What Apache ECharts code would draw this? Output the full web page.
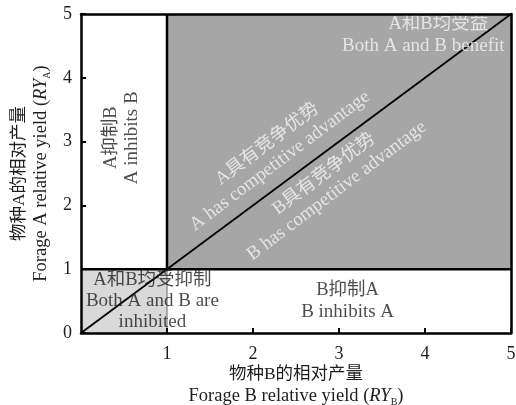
<!DOCTYPE html>
<html>
<head>
<meta charset="utf-8">
<script src="https://cdn.jsdelivr.net/npm/echarts@6/dist/echarts.min.js"></script>
<style>html,body{margin:0;padding:0;background:#fff}#c{width:516px;height:405px}</style>
</head>
<body>
<div id="c"></div>
<script>
// ---- data ----
const axisMin = 0, axisMax = 5, axisStep = 1;
const diagonal = [[0, 0], [5, 5]];
const benefitBox = [[1, 1], [5, 5]];
const inhibitedBox = [[0, 0], [1, 1]];
const thresholdH = [[0, 1], [5, 1]];
const thresholdVUpper = [[1, 1], [1, 5]];
const thresholdVLower = [[1, 0], [1, 1]];
const regionTexts = [
  { cn: 'A和B均受益', en: 'Both A and B benefit', at: [3.98, 4.67], dark: true, rot: 0, cnShift: 30 },
  { cn: 'A具有竞争优势', en: 'A has competitive advantage', at: [2.24, 2.83], dark: true, rot: 37, cnShift: 0 },
  { cn: 'B具有竞争优势', en: 'B has competitive advantage', at: [2.9, 2.36], dark: true, rot: 37, cnShift: 0 },
  { cn: 'A抑制B', en: 'A inhibits B', at: [0.47, 3.06], dark: false, rot: 90, cnShift: 0 },
  { cn: 'A和B均受抑制', en: 'Both A and B are\ninhibited', at: [0.83, 0.5], dark: false, rot: 0, cnShift: 0 },
  { cn: 'B抑制A', en: 'B inhibits A', at: [3.1, 0.5], dark: false, rot: 0, cnShift: 0 }
];

const serif = "'Liberation Serif','Times New Roman','Noto Sans CJK SC',serif";
const ink = '#1e1e1e';

const chart = echarts.init(document.getElementById('c'), null, { renderer: 'canvas' });

function textLabel(t) {
  const col = t.dark ? '#f4f4f4' : ink;
  const enLines = t.en.split('\n').map(s => '{e|' + s + '}').join('\n');
  return {
    show: true,
    position: 'inside',
    rotate: t.rot,
    align: 'center',
    verticalAlign: 'middle',
    formatter: '{c|' + t.cn + '}\n' + enLines,
    rich: {
      c: { fontFamily: serif, fontSize: 18.5, color: col, lineHeight: 21, align: 'center',
           padding: [0, 0, 0, t.cnShift] },
      e: { fontFamily: serif, fontSize: 19, color: col, lineHeight: 21, align: 'center' }
    }
  };
}

const lineStyleSeries = (data, w, c) => ({
  type: 'line', data: data, symbol: 'none', silent: true, z: 3,
  lineStyle: { color: c, width: w }, animation: false
});

const nameRich = {
  c: { fontFamily: serif, fontSize: 17.5, color: ink, lineHeight: 22, align: 'center' },
  e: { fontFamily: serif, fontSize: 18.5, color: ink, lineHeight: 22 },
  i: { fontFamily: serif, fontSize: 18.5, fontStyle: 'italic', color: ink, lineHeight: 22 },
  s: { fontFamily: serif, fontSize: 10, color: ink, lineHeight: 22, verticalAlign: 'bottom', padding: [8, 0, 0, 0] }
};

const axisCommon = {
  type: 'value', min: axisMin, max: axisMax, interval: axisStep, z: 10,
  splitLine: { show: false },
  axisLine: { show: true, lineStyle: { color: '#000', width: 2.5 } },
  axisTick: { show: true, inside: true, length: 5, lineStyle: { color: '#000', width: 2 } },
  axisLabel: { fontFamily: serif, fontSize: 18, color: ink }
};

chart.setOption({
  animation: false,
  grid: { left: 81, right: 5, top: 14, bottom: 72, containLabel: false, outerBoundsMode: 'none' },
  xAxis: [
    Object.assign({}, axisCommon, {
      position: 'bottom',
      axisLabel: Object.assign({}, axisCommon.axisLabel, { margin: 12, showMinLabel: false,
        formatter: v => (v === 0 ? '' : String(v)) }),
      name: '{c|物种B的相对产量}\n{e|Forage B relative yield (}{i|RY}{s|B}{e|)}',
      nameLocation: 'middle', nameGap: 30, nameMoveOverlap: false,
      nameTextStyle: { align: 'center', verticalAlign: 'top', rich: nameRich }
    }),
    { type: 'value', min: axisMin, max: axisMax, position: 'top', z: 10,
      axisLine: { show: true, onZero: false, lineStyle: { color: '#000', width: 2.5 } },
      axisTick: { show: false }, axisLabel: { show: false }, splitLine: { show: false } }
  ],
  yAxis: [
    Object.assign({}, axisCommon, {
      position: 'left',
      axisLabel: Object.assign({}, axisCommon.axisLabel, { margin: 9 }),
      name: '{c|物种A的相对产量}\n{e|Forage A relative yield (}{i|RY}{s|A}{e|)}',
      nameLocation: 'middle', nameGap: 29, nameRotate: 90, nameMoveOverlap: false,
      nameTextStyle: { align: 'center', rich: nameRich }
    }),
    { type: 'value', min: axisMin, max: axisMax, position: 'right', z: 10,
      axisLine: { show: true, onZero: false, lineStyle: { color: '#000', width: 2.5 } },
      axisTick: { show: false }, axisLabel: { show: false }, splitLine: { show: false } }
  ],
  series: [
    {
      type: 'line', data: [], silent: true, z: 1,
      markArea: {
        silent: true,
        data: [
          [{ coord: benefitBox[0], itemStyle: { color: '#a6a6a6' } }, { coord: benefitBox[1] }],
          [{ coord: inhibitedBox[0], itemStyle: { color: '#d9d9d9' } }, { coord: inhibitedBox[1] }]
        ]
      }
    },
    lineStyleSeries(thresholdVLower, 1, '#666'),
    lineStyleSeries(thresholdH, 2.5, '#000'),
    lineStyleSeries(thresholdVUpper, 2.5, '#000'),
    lineStyleSeries(diagonal, 1.8, '#000'),
    {
      type: 'scatter', symbolSize: 0, silent: true, z: 6,
      data: regionTexts.map(t => ({ value: t.at, label: textLabel(t) }))
    }
  ]
});
</script>
</body>
</html>
